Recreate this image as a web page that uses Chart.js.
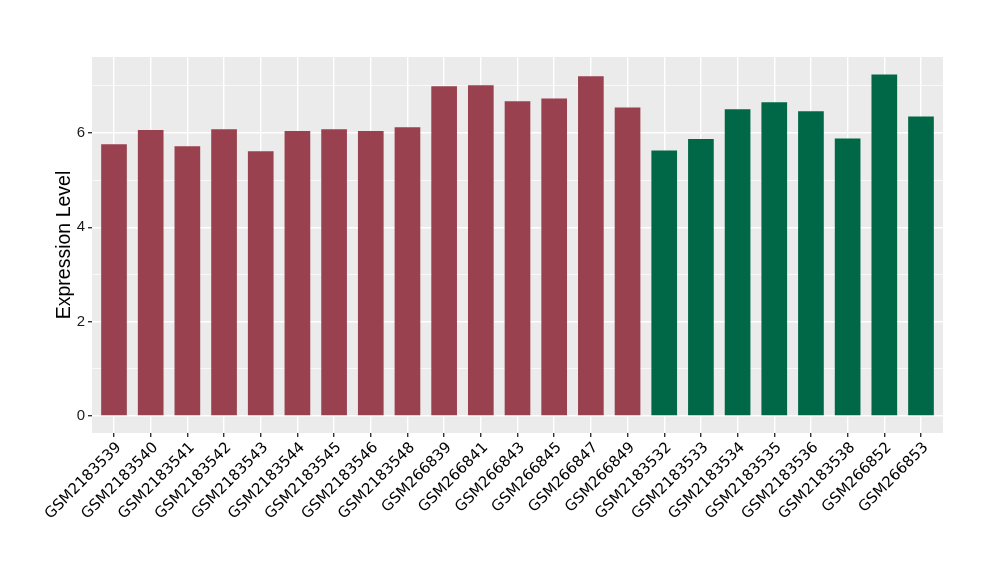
<!DOCTYPE html>
<html>
<head>
<meta charset="utf-8">
<script src="https://cdn.jsdelivr.net/npm/chart.js@4/dist/chart.umd.min.js"></script>
<style>
  html, body { margin: 0; padding: 0; background: #ffffff; }
  #chart { display: block; }
</style>
</head>
<body>
<canvas id="chart" width="1000" height="580"></canvas>
<script>
// ── Data ─────────────────────────────────────
const samples = [
  'GSM2183539', 'GSM2183540', 'GSM2183541', 'GSM2183542', 'GSM2183543',
  'GSM2183544', 'GSM2183545', 'GSM2183546', 'GSM2183548', 'GSM266839',
  'GSM266841', 'GSM266843', 'GSM266845', 'GSM266847', 'GSM266849',
  'GSM2183532', 'GSM2183533', 'GSM2183534', 'GSM2183535', 'GSM2183536',
  'GSM2183538', 'GSM266852', 'GSM266853'
];
const expression = [
  5.76, 6.06, 5.72, 6.08, 5.61, 6.04, 6.08, 6.04, 6.12, 6.99,
  7.01, 6.67, 6.73, 7.20, 6.54,
  5.63, 5.87, 6.50, 6.65, 6.46, 5.88, 7.24, 6.35
];
const groups = [
  'a', 'a', 'a', 'a', 'a', 'a', 'a', 'a', 'a', 'a', 'a', 'a', 'a', 'a', 'a',
  'b', 'b', 'b', 'b', 'b', 'b', 'b', 'b'
];
const groupColors = { a: '#9a4150', b: '#006846' };
const yTicks = [0, 1, 2, 3, 4, 5, 6, 7];

// ── Panel background (ggplot grey) ───────────
const panelBg = {
  id: 'panelBg',
  beforeDraw(chart) {
    const { ctx, chartArea: a } = chart;
    ctx.save();
    ctx.fillStyle = '#ebebeb';
    ctx.fillRect(a.left, a.top, a.right - a.left, a.bottom - a.top);
    ctx.restore();
  }
};

new Chart(document.getElementById('chart'), {
  type: 'bar',
  data: {
    datasets: [{
      data: expression.map((v, i) => ({ x: i, y: v })),
      backgroundColor: groups.map(g => groupColors[g]),
      barPercentage: 0.7,
      categoryPercentage: 1.0,
      borderWidth: 0
    }]
  },
  options: {
    responsive: false,
    animation: false,
    devicePixelRatio: 1,
    layout: { padding: { top: 57, right: 57, left: 0, bottom: 0 } },
    plugins: { legend: { display: false }, tooltip: { enabled: false } },
    scales: {
      x: {
        type: 'linear',
        offset: false,
        min: -0.6,
        max: samples.length - 0.4,
        afterBuildTicks: s => { s.ticks = samples.map((_, i) => ({ value: i })); },
        afterFit: s => { s.height = 147; },
        border: { display: false },
        grid: { offset: false, color: '#ffffff', lineWidth: 1.4, tickColor: '#333333', tickLength: 4 },
        ticks: {
          autoSkip: false,
          minRotation: 45,
          maxRotation: 45,
          padding: 2,
          labelOffset: 5,
          color: '#000000',
          font: { family: 'DejaVu Sans', size: 15 },
          callback: v => samples[v]
        }
      },
      y: {
        min: -0.36,
        max: 7.61,
        afterBuildTicks: s => { s.ticks = yTicks.map(v => ({ value: v })); },
        afterFit: s => { s.width = 92; },
        border: { display: false },
        grid: {
          color: '#ffffff',
          lineWidth: c => (c.tick && c.tick.value % 2 === 0 ? 1.4 : 0.7),
          tickColor: c => (c.tick && c.tick.value % 2 === 0 ? '#333333' : 'rgba(0,0,0,0)'),
          tickLength: 4
        },
        ticks: {
          padding: 3,
          color: '#1a1a1a',
          font: { family: 'Liberation Sans', size: 15 },
          callback: v => (v % 2 === 0 ? v : '')
        },
        title: {
          display: true,
          text: 'Expression Level',
          color: '#000000',
          font: { family: 'Liberation Sans', size: 19.5, lineHeight: 1 },
          padding: { top: 55, bottom: 0 }
        }
      }
    }
  },
  plugins: [panelBg]
});
</script>
</body>
</html>
